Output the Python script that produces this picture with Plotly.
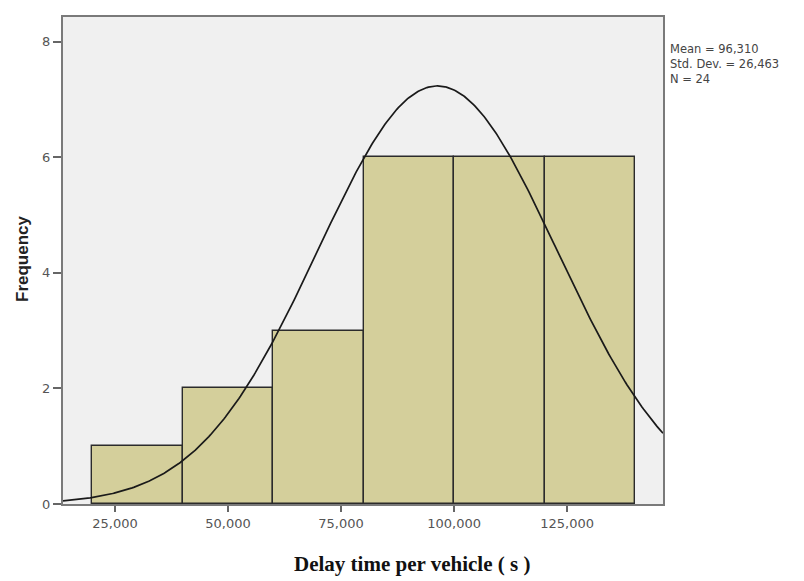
import numpy as np
import plotly.graph_objects as go

# Data
bin_left = [20, 40, 60, 80, 100, 120]
bin_width = 20
counts = [1, 2, 3, 6, 6, 6]
mean_val = 96.310
sd_val = 26.463
n_val = 24
x_tickvals = [25, 50, 75, 100, 125]
x_ticktext = ["25,000", "50,000", "75,000", "100,000", "125,000"]
y_tickvals = [0, 2, 4, 6, 8]
stats_lines = ["Mean = 96,310", "Std. Dev. = 26,463", "N = 24"]
x_range = [13.5, 146.2]
y_range = [0, 8.43]

centers = [b + bin_width / 2 for b in bin_left]

fig = go.Figure()
fig.add_trace(go.Bar(
    x=centers, y=counts, width=[bin_width] * len(counts),
    marker=dict(color="#d4cf9b", line=dict(color="#2b2b2b", width=1.4)),
    showlegend=False, hoverinfo="skip",
))

# fitted normal curve (SPSS style), scaled to counts
xs = np.linspace(x_range[0], x_range[1], 400)
ys = n_val * bin_width / (sd_val * np.sqrt(2 * np.pi)) * np.exp(-0.5 * ((xs - mean_val) / sd_val) ** 2)
fig.add_trace(go.Scatter(x=xs, y=ys, mode="lines",
                         line=dict(color="#1a1a1a", width=1.7),
                         showlegend=False, hoverinfo="skip"))

W, H = 804, 581
L, R, T, B = 63, 141, 17, 77
fig.update_layout(
    width=W, height=H,
    margin=dict(l=L, r=R, t=T, b=B, autoexpand=False),
    paper_bgcolor="white", plot_bgcolor="#f0f0f0",
    bargap=0,
    font=dict(family="DejaVu Sans, sans-serif", color="#555555", size=13),
)
fig.update_xaxes(
    range=x_range, tickvals=x_tickvals, ticktext=x_ticktext,
    showgrid=False, zeroline=False, automargin=False,
    showline=True, linecolor="#7a7a7a", linewidth=2, mirror=True,
    ticks="outside", ticklen=6, tickcolor="#666666", tickwidth=1.5,
    tickfont=dict(size=13, color="#555555", family="DejaVu Sans, sans-serif"),
)
fig.update_yaxes(
    range=y_range, tickvals=y_tickvals,
    showgrid=False, zeroline=False, automargin=False,
    showline=True, linecolor="#7a7a7a", linewidth=2, mirror=True,
    ticks="outside", ticklen=8, tickcolor="#666666", tickwidth=1.5,
    tickfont=dict(size=13, color="#555555", family="DejaVu Sans, sans-serif"),
)

plot_w = W - L - R
plot_h = H - T - B

def px_x(px):
    return (px - L) / plot_w

def px_y(py):
    return (H - B - py) / plot_h

fig.add_annotation(
    x=px_x(22), y=px_y(259), xref="paper", yref="paper",
    xanchor="center", yanchor="middle", textangle=-90,
    text="<b>Frequency</b>", showarrow=False,
    font=dict(size=17, color="#222222", family="Liberation Sans, Arial, sans-serif"),
)
fig.add_annotation(
    x=px_x(412), y=px_y(564), xref="paper", yref="paper",
    xanchor="center", yanchor="middle",
    text="<b>Delay time per vehicle ( s )</b>", showarrow=False,
    font=dict(family="Liberation Serif, Times New Roman, serif", size=21, color="#111111"),
)
fig.add_annotation(
    x=px_x(669), y=px_y(41), xref="paper", yref="paper",
    xanchor="left", yanchor="top", align="left", showarrow=False,
    text="<br>".join(stats_lines), borderpad=0,
    font=dict(size=11.5, color="#444444", family="DejaVu Sans, sans-serif"),
)

fig.write_html("out.html", config={"displayModeBar": False},
               post_script="document.body.style.margin='0';")
